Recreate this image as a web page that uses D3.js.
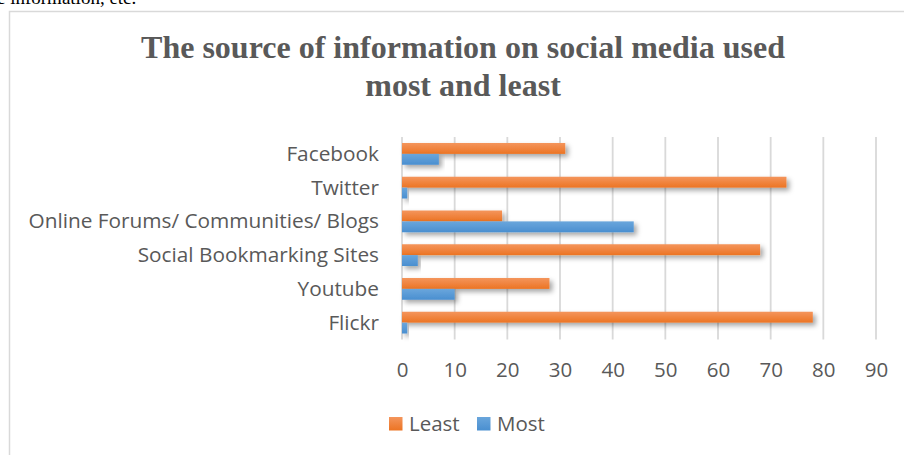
<!DOCTYPE html>
<html lang="en">
<head>
<meta charset="UTF-8">
<title>Source of information on social media</title>
<script src="https://d3js.org/d3.v7.min.js"></script>
<style>
  body { margin: 0; background: #fff; }
  svg { display: block; }
  .tick text { fill: #595959; }
</style>
</head>
<body>
<svg id="chart" width="904" height="455"></svg>
<script>
'use strict';

// data
const categories = ['Facebook', 'Twitter', 'Online Forums/ Communities/ Blogs', 'Social Bookmarking Sites', 'Youtube', 'Flickr'];
const leastValues = [31, 73, 19, 68, 28, 78];
const mostValues = [7, 1, 44, 3, 10, 1];
const seriesNames = ['Least', 'Most'];
const xTicks = [0, 10, 20, 30, 40, 50, 60, 70, 80, 90];

const svg = d3.select('#chart');
const defs = svg.append('defs');

// gradients + shadow, roughly like the office style
function grad(id, c1, c2) {
    const g = defs.append('linearGradient').attr('id', id).attr('x1', 0).attr('y1', 0).attr('x2', 0).attr('y2', 1);
    g.append('stop').attr('offset', '0%').attr('stop-color', c1);
    g.append('stop').attr('offset', '100%').attr('stop-color', c2);
}
grad('gOrange', '#f4955c', '#ec7423');
grad('gBlue', '#6aa6dc', '#4a8fd0');
const f = defs.append('filter').attr('id', 'shadow').attr('x', '-5%').attr('y', '-40%').attr('width', '120%').attr('height', '220%');
f.append('feDropShadow').attr('dx', 3).attr('dy', 3).attr('stdDeviation', 2.5).attr('flood-color', '#000').attr('flood-opacity', 0.35);

// clipped text from the page above the chart
svg.append('text').attr('x', -3).attr('y', 4)
    .attr('font-family', 'Liberation Serif, Times New Roman, serif').attr('font-size', 19)
    .attr('fill', '#000').text('e information, etc.');

// chart frame (runs off the right and bottom)
svg.append('rect').attr('x', 9.5).attr('y', 11.5).attr('width', 1000).attr('height', 1000)
    .attr('fill', 'none').attr('stroke', '#d9d9d9').attr('stroke-width', 1.5);

// title
const title = svg.append('text').attr('text-anchor', 'middle')
    .attr('font-family', 'Liberation Serif, Times New Roman, serif').attr('font-weight', 'bold')
    .attr('font-size', 32).attr('fill', '#595959');
title.append('tspan').attr('x', 463).attr('y', 58).text('The source of information on social media used');
title.append('tspan').attr('x', 463).attr('y', 96).text('most and least');

const x = d3.scaleLinear().domain([0, 90]).range([402, 876]);
const y = d3.scaleBand().domain(categories).range([137, 339.5]);
const inner = d3.scaleBand().domain(seriesNames).range([0, y.bandwidth()]).paddingOuter(0.55);

// gridlines
svg.append('g').selectAll('line').data(xTicks).join('line')
    .attr('x1', d => x(d)).attr('x2', d => x(d))
    .attr('y1', y.range()[0]).attr('y2', y.range()[1])
    .attr('stroke', '#d9d9d9').attr('stroke-width', 1.8);

// bars
const rows = categories.map((c, i) => ({ cat: c, vals: [leastValues[i], mostValues[i]] }));
const g = svg.append('g');
rows.forEach(r => {
    seriesNames.forEach((s, j) => {
        g.append('rect')
            .attr('x', x(0))
            .attr('y', y(r.cat) + inner(s))
            .attr('width', x(r.vals[j]) - x(0))
            .attr('height', inner.bandwidth())
            .attr('fill', j === 0 ? 'url(#gOrange)' : 'url(#gBlue)')
            .attr('filter', 'url(#shadow)');
    });
});

// category axis labels
const yAxis = svg.append('g').attr('transform', 'translate(' + x(0) + ',0)')
    .call(d3.axisLeft(y).tickSize(0).tickPadding(23));
yAxis.select('.domain').remove();
yAxis.selectAll('text').attr('font-family', 'Open Sans, sans-serif').attr('font-size', 20.8).attr('dy', '0.34em');

// value axis labels
const xAxis = svg.append('g').attr('transform', 'translate(0,' + 362 + ')')
    .call(d3.axisBottom(x).tickValues(xTicks).tickSize(0).tickPadding(0));
xAxis.select('.domain').remove();
xAxis.selectAll('text').attr('font-family', 'Open Sans, sans-serif').attr('font-size', 20.5).attr('dy', '0.71em');

// legend
const legend = svg.append('g').attr('font-family', 'Open Sans, sans-serif').attr('font-size', 20.5).attr('fill', '#595959');
const legendX = [389, 477];
seriesNames.forEach((s, j) => {
    legend.append('rect').attr('x', legendX[j]).attr('y', 417).attr('width', 13.5).attr('height', 13.5)
        .attr('fill', j === 0 ? 'url(#gOrange)' : 'url(#gBlue)');
    legend.append('text').attr('x', legendX[j] + 20).attr('y', 424).attr('dy', '0.35em').text(s);
});
</script>
</body>
</html>
